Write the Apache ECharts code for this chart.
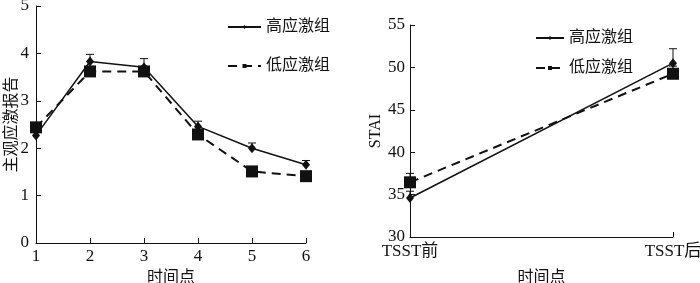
<!DOCTYPE html>
<html><head><meta charset="utf-8">
<script src="https://cdn.jsdelivr.net/npm/echarts@6/dist/echarts.min.js"></script>
<style>html,body{margin:0;padding:0;background:#fff}#c{width:700px;height:283px}</style>
</head><body><div id="c"></div>
<script>
// ---- data ----
const timeCats = ['1','2','3','4','5','6'];
const highReport = [2.27, 3.83, 3.71, 2.46, 2.00, 1.65];
const highReportErr = [0.10, 0.15, 0.18, 0.11, 0.11, 0.09];
const lowReport = [2.44, 3.62, 3.62, 2.29, 1.51, 1.41];
const lowReportErr = [0.08, 0.08, 0.08, 0.08, 0.06, 0.06];
const stCats = ['TSST前','TSST后'];
const highSTAI = [34.6, 50.5];
const highSTAIErr = [0.8, 1.7];
const lowSTAI = [36.45, 49.25];
const lowSTAIErr = [1.05, 0.9];
const reportTicks = {min:0, max:5, interval:1};
const staiTicks = {min:30, max:55, interval:5};
const names = ['高应激组','低应激组'];

const FONT = '"Liberation Serif", "Noto Sans CJK SC", serif';
const INK = '#111';

function errSeries(vals, errs, xi, yi) {
  return {
    type: 'custom', xAxisIndex: xi, yAxisIndex: yi, z: 1, silent: true,
    data: vals.map((v, i) => [i, v, v + errs[i]]),
    renderItem: function (params, api) {
      const p0 = api.coord([api.value(0), api.value(1)]);
      const p1 = api.coord([api.value(0), api.value(2)]);
      const style = {stroke: INK, lineWidth: 1};
      return {type: 'group', children: [
        {type: 'line', shape: {x1: p0[0], y1: p0[1], x2: p1[0], y2: p1[1]}, style},
        {type: 'line', shape: {x1: p1[0] - 4, y1: p1[1], x2: p1[0] + 4, y2: p1[1]}, style}
      ]};
    }
  };
}

function xAxisOf(cats, gi, margin, gap) {
  return {
    type: 'category', gridIndex: gi, data: cats, boundaryGap: false,
    axisLine: {lineStyle: {color: INK, width: 1}},
    axisTick: {inside: true, length: 5, lineStyle: {color: INK}},
    axisLabel: {color: INK, fontFamily: FONT, fontSize: 17, margin: margin},
    name: '时间点', nameLocation: 'middle', nameGap: gap, nameMoveOverlap: false,
    nameTextStyle: {color: INK, fontFamily: FONT, fontSize: 16}
  };
}
function yAxisOf(t, gi, name, gap, margin) {
  return {
    type: 'value', gridIndex: gi, min: t.min, max: t.max, interval: t.interval,
    splitLine: {show: false},
    axisLine: {show: true, lineStyle: {color: INK, width: 1}},
    axisTick: {show: true, inside: true, length: 5, lineStyle: {color: INK}},
    axisLabel: {color: INK, fontFamily: FONT, fontSize: 17, margin: margin},
    name: name, nameLocation: 'middle', nameGap: gap, nameMoveOverlap: false,
    nameTextStyle: {color: INK, fontFamily: FONT, fontSize: 16}
  };
}
function lineSeries(name, data, xi, yi, high) {
  return {
    name: name, type: 'line', xAxisIndex: xi, yAxisIndex: yi, data: data, z: high ? 3 : 2,
    symbol: high ? 'diamond' : 'rect', symbolSize: high ? [8, 10] : 12,
    itemStyle: {color: INK},
    lineStyle: high ? {color: INK, width: 1.5, type: 'solid'} : {color: INK, width: 2, type: [9, 6]},
    animation: false
  };
}

const chart = echarts.init(document.getElementById('c'), null, {renderer: 'canvas'});
chart.setOption({
  animation: false,
  grid: [
    {left: 36, top: 6, width: 270, height: 237, outerBoundsMode: 'none', containLabel: false},
    {left: 410, top: 25, width: 263, height: 212, outerBoundsMode: 'none', containLabel: false}
  ],
  xAxis: [xAxisOf(timeCats, 0, 5, 27), xAxisOf(stCats, 1, 6, 33)],
  yAxis: [yAxisOf(reportTicks, 0, '主观应激报告', 16, 7), yAxisOf(staiTicks, 1, 'STAI', 26, 5)],
  legend: [
    {orient: 'vertical', left: 222, top: 14, itemWidth: 33, itemHeight: 5, itemGap: 23,
     data: names, textStyle: {color: INK, fontFamily: FONT, fontSize: 16}},
    {orient: 'vertical', left: 530, top: 25, itemWidth: 28, itemHeight: 5, itemGap: 14,
     data: names, textStyle: {color: INK, fontFamily: FONT, fontSize: 16}}
  ],
  series: [
    lineSeries(names[0], highReport, 0, 0, true),
    lineSeries(names[1], lowReport, 0, 0, false),
    lineSeries(names[0], highSTAI, 1, 1, true),
    lineSeries(names[1], lowSTAI, 1, 1, false),
    errSeries(highReport, highReportErr, 0, 0),
    errSeries(lowReport, lowReportErr, 0, 0),
    errSeries(highSTAI, highSTAIErr, 1, 1),
    errSeries(lowSTAI, lowSTAIErr, 1, 1)
  ]
});
</script></body></html>
